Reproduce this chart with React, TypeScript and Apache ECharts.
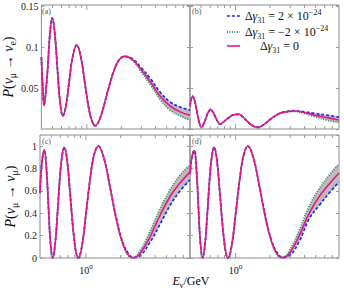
import React, { useEffect, useRef } from "react";
import * as echarts from "echarts";

const FONT = "'Liberation Serif', 'DejaVu Serif', serif";

// x-axis (energy, GeV) tick marks and labelled decade
const xTickValues = [0.5, 0.6, 0.7, 0.8, 0.9, 1, 2, 3, 4, 5, 6, 7];
const xLabelValues = [1];

// legend / series names
const NAME_PLUS = "Δγ31 = 2 × 10^-24";
const NAME_MINUS = "Δγ31 = −2 × 10^-24";
const NAME_ZERO = "Δγ31 = 0";

// Panel (a): P(νμ → νe)
const energyA = [0.4, 0.411, 0.422, 0.438, 0.456, 0.474, 0.498, 0.524, 0.551, 0.579, 0.617, 0.659, 0.7, 0.75, 0.816, 0.889, 0.963, 1.044, 1.108, 1.183, 1.326, 1.495, 1.685, 1.9, 2.154, 2.51, 2.95, 3.6, 4.39, 5.37, 6.55, 8.0];
const zeroA = [0.088, 0.052, 0.029, 0.047, 0.078, 0.115, 0.136, 0.117, 0.076, 0.037, 0.016, 0.03, 0.058, 0.088, 0.103, 0.087, 0.055, 0.024, 0.01, 0.004, 0.016, 0.042, 0.067, 0.084, 0.089, 0.085, 0.074, 0.058, 0.04, 0.028, 0.021, 0.017];
const plusA = [0.088, 0.052, 0.029, 0.047, 0.078, 0.115, 0.136, 0.117, 0.076, 0.037, 0.016, 0.03, 0.058, 0.088, 0.103, 0.087, 0.055, 0.024, 0.01, 0.004, 0.016, 0.042, 0.067, 0.084, 0.089, 0.086, 0.076, 0.062, 0.045, 0.033, 0.027, 0.023];
const minusA = [0.088, 0.052, 0.029, 0.047, 0.078, 0.115, 0.136, 0.117, 0.076, 0.037, 0.016, 0.03, 0.058, 0.088, 0.103, 0.087, 0.055, 0.024, 0.01, 0.004, 0.016, 0.042, 0.067, 0.084, 0.089, 0.084, 0.071, 0.054, 0.036, 0.023, 0.016, 0.011];

// Panel (b): P(ν̄μ → ν̄e)
const energyB = [0.4, 0.411, 0.422, 0.442, 0.465, 0.484, 0.505, 0.529, 0.556, 0.579, 0.605, 0.633, 0.665, 0.693, 0.728, 0.789, 0.854, 0.944, 1.073, 1.153, 1.274, 1.408, 1.565, 1.789, 2.057, 2.414, 2.776, 3.26, 4.02, 4.91, 6.23, 8.0];
const zeroB = [0.028, 0.037, 0.04, 0.033, 0.018, 0.007, 0.002, 0.007, 0.015, 0.021, 0.024, 0.021, 0.015, 0.01, 0.006, 0.009, 0.013, 0.017, 0.018, 0.015, 0.009, 0.004, 0.002, 0.006, 0.013, 0.019, 0.021, 0.022, 0.02, 0.017, 0.014, 0.011];
const plusB = [0.028, 0.037, 0.04, 0.033, 0.018, 0.007, 0.002, 0.007, 0.015, 0.021, 0.024, 0.021, 0.015, 0.01, 0.006, 0.009, 0.013, 0.017, 0.018, 0.015, 0.009, 0.004, 0.002, 0.006, 0.013, 0.019, 0.0215, 0.0225, 0.021, 0.019, 0.017, 0.0145];
const minusB = [0.028, 0.037, 0.04, 0.033, 0.018, 0.007, 0.002, 0.007, 0.015, 0.021, 0.024, 0.021, 0.015, 0.01, 0.006, 0.009, 0.013, 0.017, 0.018, 0.015, 0.009, 0.004, 0.002, 0.006, 0.013, 0.019, 0.0205, 0.0215, 0.019, 0.015, 0.011, 0.008];

// Panel (c): P(νμ → νμ)
const energyC = [0.4, 0.415, 0.436, 0.456, 0.474, 0.493, 0.515, 0.54, 0.567, 0.596, 0.621, 0.65, 0.686, 0.728, 0.773, 0.821, 0.859, 0.925, 1.003, 1.086, 1.176, 1.282, 1.436, 1.619, 1.825, 2.057, 2.319, 2.578, 2.95, 3.6, 4.39, 5.37, 6.55, 8.0];
const zeroC = [0.58, 0.85, 0.965, 0.78, 0.45, 0.135, 0.0, 0.117, 0.4, 0.73, 0.91, 0.99, 0.88, 0.59, 0.27, 0.05, 0.0, 0.11, 0.4, 0.7, 0.92, 1.0, 0.89, 0.635, 0.36, 0.15, 0.03, 0.0, 0.04, 0.19, 0.38, 0.55, 0.67, 0.77];
const plusC = [0.58, 0.85, 0.965, 0.78, 0.45, 0.135, 0.0, 0.117, 0.4, 0.73, 0.91, 0.99, 0.88, 0.59, 0.27, 0.05, 0.0, 0.11, 0.4, 0.7, 0.92, 1.0, 0.89, 0.635, 0.37, 0.16, 0.045, 0.006, 0.02, 0.14, 0.3, 0.47, 0.6, 0.7];
const minusC = [0.58, 0.85, 0.965, 0.78, 0.45, 0.135, 0.0, 0.117, 0.4, 0.73, 0.91, 0.99, 0.88, 0.59, 0.27, 0.05, 0.0, 0.11, 0.4, 0.7, 0.92, 1.0, 0.89, 0.635, 0.35, 0.145, 0.025, 0.006, 0.065, 0.24, 0.44, 0.61, 0.74, 0.83];

// Panel (d): P(ν̄μ → ν̄μ)
const energyD = [0.4, 0.415, 0.436, 0.456, 0.474, 0.493, 0.515, 0.54, 0.567, 0.596, 0.621, 0.65, 0.686, 0.728, 0.773, 0.821, 0.859, 0.925, 1.003, 1.086, 1.176, 1.282, 1.436, 1.619, 1.825, 2.057, 2.319, 2.578, 2.95, 3.6, 4.39, 5.37, 6.55, 8.0];
const zeroD = [0.75, 0.9, 0.96, 0.78, 0.45, 0.135, 0.0, 0.117, 0.4, 0.73, 0.91, 0.99, 0.88, 0.59, 0.27, 0.05, 0.0, 0.11, 0.4, 0.7, 0.92, 1.0, 0.89, 0.635, 0.36, 0.15, 0.03, 0.0, 0.04, 0.2, 0.4, 0.55, 0.66, 0.76];
const plusD = [0.75, 0.9, 0.96, 0.78, 0.45, 0.135, 0.0, 0.117, 0.4, 0.73, 0.91, 0.99, 0.88, 0.59, 0.27, 0.05, 0.0, 0.11, 0.4, 0.7, 0.92, 1.0, 0.89, 0.635, 0.37, 0.16, 0.045, 0.008, 0.02, 0.15, 0.35, 0.47, 0.58, 0.68];
const minusD = [0.75, 0.9, 0.96, 0.78, 0.45, 0.135, 0.0, 0.117, 0.4, 0.73, 0.91, 0.99, 0.88, 0.59, 0.27, 0.05, 0.0, 0.11, 0.4, 0.7, 0.92, 1.0, 0.89, 0.635, 0.35, 0.145, 0.025, 0.008, 0.065, 0.25, 0.46, 0.62, 0.74, 0.84];

const panelLabels = ["(a)", "(b)", "(c)", "(d)"];

const BLUE = "#2323ff";
const GREEN = "#2e8b57";
const MAGENTA = "#e6158c";
const BAND = "#bdbdbd";
const AXIS = "#8a8a8a";
const TICK = "#9a9a9a";
const SMOOTH = 0.4;

function rich(size: number) {
  const sub = Math.round(size * 0.68);
  return {
    n: { fontFamily: FONT, fontSize: size, lineHeight: size + 4, color: "#111" },
    i: { fontFamily: FONT, fontSize: size, fontStyle: "italic", lineHeight: size + 4, color: "#111" },
    sub: { fontFamily: FONT, fontSize: sub, lineHeight: sub, verticalAlign: "bottom", color: "#111" },
    sup: { fontFamily: FONT, fontSize: sub, lineHeight: sub, verticalAlign: "top", color: "#111" },
    sp: { width: 15 },
  };
}

function buildOption() {
  const panels = [
    { e: energyA, zero: zeroA, plus: plusA, minus: minusA },
    { e: energyB, zero: zeroB, plus: plusB, minus: minusB },
    { e: energyC, zero: zeroC, plus: plusC, minus: minusC },
    { e: energyD, zero: zeroD, plus: plusD, minus: minusD },
  ];
  const boxes = [
    { left: 40, top: 5, width: 150, height: 124 },
    { left: 190, top: 5, width: 149, height: 124 },
    { left: 40, top: 135, width: 150, height: 123 },
    { left: 190, top: 135, width: 149, height: 123 },
  ];
  const grid = boxes.map((b) => ({
    ...b,
    show: true,
    borderColor: AXIS,
    borderWidth: 1,
    backgroundColor: "transparent",
  }));

  const xAxis = boxes.map((_, i) => ({
    type: "log",
    logBase: 10,
    gridIndex: i,
    min: 0.4,
    max: 8,
    axisLine: { show: false },
    axisTick: { show: false },
    splitLine: { show: false },
    axisLabel: {
      show: i >= 2,
      margin: 5,
      formatter: (v: number) =>
        xLabelValues.some((t) => Math.abs(v - t) < 1e-6) ? "{n|10}{sup|0}" : "",
      rich: rich(10),
    },
  }));

  const yScale = (i: number) =>
    i < 2 ? { min: 0, max: 0.152, interval: 0.05 } : { min: 0, max: 1.1, interval: 0.2 };
  const yNames = [
    "{i|P}{n|(}{i|ν}{sub|μ}{n| → }{i|ν}{sub|e}{n|)}",
    "",
    "{i|P}{n|(}{i|ν}{sub|μ}{n| → }{i|ν}{sub|μ}{n|)}",
    "",
  ];
  const yLeft = boxes.map((_, i) => ({
    type: "value",
    gridIndex: i,
    position: "left",
    ...yScale(i),
    name: yNames[i],
    nameLocation: "middle",
    nameGap: 21,
    nameRotate: 90,
    nameTextStyle: { fontFamily: FONT, fontSize: 14, rich: rich(14) },
    axisLine: { show: false },
    splitLine: { show: false },
    axisTick: { show: true, inside: true, length: 3, lineStyle: { color: TICK } },
    axisLabel: {
      show: i === 0 || i === 2,
      margin: 3,
      fontFamily: FONT,
      fontSize: 10,
      color: "#222",
      showMinLabel: i === 2,
      showMaxLabel: false,
    },
  }));
  const yRight = boxes.map((_, i) => ({
    type: "value",
    gridIndex: i,
    position: "right",
    ...yScale(i),
    axisLine: { show: false },
    splitLine: { show: false },
    axisTick: { show: true, inside: true, length: 3, lineStyle: { color: TICK } },
    axisLabel: { show: false },
  }));

  const zip = (e: number[], v: number[]) => e.map((x, k) => [x, v[k]]);
  const series: any[] = [];
  panels.forEach((p, i) => {
    const upper = p.plus.map((v, k) => Math.max(v, p.minus[k]));
    const lower = p.plus.map((v, k) => Math.min(v, p.minus[k]));
    let first = p.plus.findIndex((v, k) => Math.abs(v - p.minus[k]) > 1e-9);
    first = Math.max(0, first - 1);
    const common = {
      type: "line",
      xAxisIndex: i,
      yAxisIndex: i,
      smooth: SMOOTH,
      symbol: "none",
      silent: true,
    };
    // grey band between the two non-zero Δγ31 curves
    series.push({
      type: "custom",
      xAxisIndex: i,
      yAxisIndex: i,
      silent: true,
      clip: true,
      z: 1,
      data: [[1, 0]],
      renderItem: (_params: any, api: any) => {
        const up: number[][] = [];
        const lo: number[][] = [];
        for (let k = first; k < p.e.length; k++) {
          up.push(api.coord([p.e[k], upper[k]]));
          lo.push(api.coord([p.e[k], lower[k]]));
        }
        return {
          type: "polygon",
          shape: { points: up.concat(lo.reverse()), smooth: 0.3 },
          style: { fill: BAND, stroke: "none" },
        };
      },
    });
    series.push({
      ...common,
      name: NAME_PLUS,
      data: zip(p.e, p.plus),
      itemStyle: { color: BLUE },
      lineStyle: { color: BLUE, width: 1.7, type: [3, 2] },
      z: 3,
    });
    series.push({
      ...common,
      name: NAME_MINUS,
      data: zip(p.e, p.minus),
      itemStyle: { color: GREEN },
      lineStyle: { color: GREEN, width: 1.8, type: [1, 1.5] },
      z: 4,
    });
    series.push({
      ...common,
      name: NAME_ZERO,
      data: zip(p.e, p.zero),
      itemStyle: { color: MAGENTA },
      lineStyle: { color: MAGENTA, width: 1.6 },
      z: 5,
    });
    series.push({
      type: "custom",
      xAxisIndex: i,
      yAxisIndex: i,
      silent: true,
      clip: false,
      z: 6,
      data: xTickValues.map((v) => [v, 0]),
      renderItem: (params: any, api: any) => {
        const v = api.value(0);
        const pt = api.coord([v, 0]);
        const cs = params.coordSys;
        const len = xLabelValues.some((t) => Math.abs(v - t) < 1e-6) ? 5 : 3;
        const style = { stroke: TICK, lineWidth: 1 };
        return {
          type: "group",
          children: [
            { type: "line", shape: { x1: pt[0], y1: cs.y + cs.height, x2: pt[0], y2: cs.y + cs.height - len }, style },
            { type: "line", shape: { x1: pt[0], y1: cs.y, x2: pt[0], y2: cs.y + len }, style },
          ],
        };
      },
    });
  });

  const legendLabels: Record<string, string> = {
    [NAME_PLUS]: "{n|Δ}{i|γ}{sub|31}{n| = 2 × 10}{sup|−24}",
    [NAME_MINUS]: "{n|Δ}{i|γ}{sub|31}{n| = −2 × 10}{sup|−24}",
    [NAME_ZERO]: "{sp|}{n|Δ}{i|γ}{sub|31}{n| = 0}",
  };

  return {
    animation: false,
    grid,
    xAxis,
    yAxis: [...yLeft, ...yRight],
    series,
    legend: {
      orient: "vertical",
      left: 226,
      top: 8,
      itemWidth: 13,
      itemHeight: 8,
      itemGap: 0,
      padding: 0,
      selectedMode: false,
      itemStyle: { opacity: 0 },
      data: [
        { name: NAME_PLUS, itemStyle: { opacity: 0 }, lineStyle: { color: BLUE, width: 1.7, type: [3, 2] } },
        { name: NAME_MINUS, itemStyle: { opacity: 0 }, lineStyle: { color: GREEN, width: 1.8, type: [1, 1.5] } },
        { name: NAME_ZERO, itemStyle: { opacity: 0 }, lineStyle: { color: MAGENTA, width: 1.6 } },
      ],
      formatter: (name: string) => legendLabels[name] || name,
      textStyle: { fontFamily: FONT, fontSize: 12, color: "#111", rich: rich(12) },
    },
    graphic: [
      ...boxes.map((b, i) => ({
        type: "text",
        x: b.left + 2,
        y: b.top + 2,
        silent: true,
        style: { text: panelLabels[i], fontFamily: FONT, fontSize: 8, fill: "#555" },
      })),
      {
        type: "text",
        x: 191,
        y: 281,
        silent: true,
        style: {
          text: "{i|E}{sub|ν}{n|/GeV}",
          align: "center",
          verticalAlign: "middle",
          rich: rich(12),
        },
      },
    ],
  };
}

export default function App() {
  const ref = useRef<HTMLDivElement>(null);
  useEffect(() => {
    document.body.style.margin = "0";
    const chart = echarts.init(ref.current!, undefined, { renderer: "svg" });
    chart.setOption(buildOption() as any);
    return () => chart.dispose();
  }, []);
  return <div ref={ref} style={{ width: 344, height: 288 }} />;
}
